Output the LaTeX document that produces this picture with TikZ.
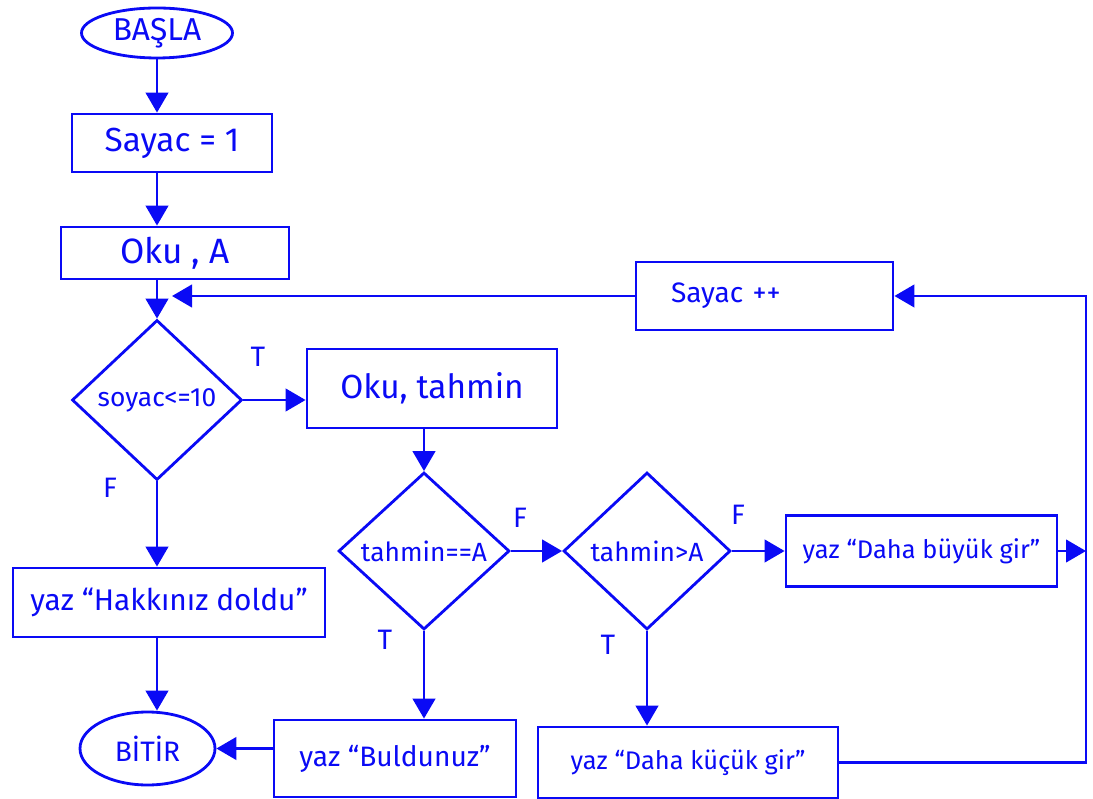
\documentclass[tikz,border=0pt]{standalone}
\usepackage{fontspec}
\setmainfont{Fira Sans}
\usetikzlibrary{shapes.geometric,arrows.meta}
\definecolor{ink}{RGB}{10,10,245}

\begin{document}
\begin{tikzpicture}[
  color=ink,
  box/.style={draw, line width=1.6pt, rectangle, inner sep=0pt},
  term/.style={draw, line width=1.6pt, ellipse, inner sep=0pt},
  cond/.style={draw, line width=1.6pt, diamond, inner sep=0pt, font=\fontsize{15}{17}\selectfont},
  arr/.style={line width=1.6pt, -{Triangle[length=4mm,width=4.5mm]}},
  tf/.style={font=\fontsize{16}{18}\selectfont}
]
  \useasboundingbox (0,0) rectangle (21.86,15.96);

  % Start and end
  \node[term, minimum width=3.02cm, minimum height=1cm, font=\fontsize{18}{20}\selectfont] (basla) at (3.14,15.3) {BAŞLA};
  \node[term, minimum width=2.7cm, minimum height=1.46cm, font=\fontsize{16}{18}\selectfont] (bitir) at (2.95,0.99) {BİTİR};

  % Boxes
  \node[box, minimum width=4cm, minimum height=1.16cm, font=\fontsize{19}{22}\selectfont] (sayac1) at (3.44,13.1) {Sayac = 1};
  \node[box, minimum width=4.56cm, minimum height=1.04cm, font=\fontsize{20}{23}\selectfont] (okuA) at (3.5,10.9) {Oku , A};
  \node[box, minimum width=5cm, minimum height=1.58cm, font=\fontsize{19}{22}\selectfont] (okuT) at (8.64,8.19) {Oku, tahmin};
  \node[box, minimum width=6.24cm, minimum height=1.38cm, font=\fontsize{17}{20}\selectfont] (hakki) at (3.38,3.91) {yaz “Hakkınız doldu”};
  \node[box, minimum width=5.42cm, minimum height=1.42cm, font=\fontsize{14.5}{17}\selectfont] (buyuk) at (18.43,4.94) {yaz “Daha büyük gir”};
  \node[box, minimum width=4.84cm, minimum height=1.54cm, font=\fontsize{16}{19}\selectfont] (buldu) at (7.9,0.79) {yaz “Buldunuz”};
  \node[box, minimum width=6cm, minimum height=1.42cm, font=\fontsize{14.5}{17}\selectfont] (kucuk) at (13.76,0.71) {yaz “Daha küçük gir”};
  \node[box, text width=5.14cm, align=left, minimum height=1.36cm, font=\fontsize{16}{19}\selectfont] (sayacpp) at (15.29,10.04) {\hspace*{0.7cm}Sayac ++};

  % Decisions
  \node[cond, minimum width=3.4cm, minimum height=3.2cm] (dec1) at (3.14,7.96) {soyac<=10};
  \node[cond, minimum width=3.42cm, minimum height=3.14cm] (dec2) at (8.48,4.94) {tahmin==A};
  \node[cond, minimum width=3.34cm, minimum height=3.14cm] (dec3) at (12.94,4.94) {tahmin>A};

  % T / F labels
  \node[tf] (t1) at (5.16,8.82) {T};
  \node[tf] (f1) at (2.2,6.2) {F};
  \node[tf] (f2) at (10.4,5.6) {F};
  \node[tf] (t2) at (7.7,3.16) {T};
  \node[tf] (f3) at (14.76,5.66) {F};
  \node[tf] (t3) at (12.16,3.06) {T};

  \coordinate (merge) at (21.72,4.94);
  \coordinate (back) at (3.44,10.04);

  % Arrows
  \draw[arr] (basla.south) -- (basla |- sayac1.north);
  \draw[arr] (sayac1.south -| basla) -- (basla |- okuA.north);
  \draw[arr] (okuA.south -| basla) -- (dec1.north);
  \draw[arr] (dec1.east) -- (dec1.east -| okuT.west);
  \draw[arr] (dec1.south) -- (dec1.south |- hakki.north);
  \draw[arr] (hakki.south -| basla) -- (basla |- bitir.north);
  \draw[arr] (okuT.south -| dec2) -- (dec2.north);
  \draw[arr] (dec2.east) -- (dec3.west);
  \draw[arr] (dec3.east) -- (buyuk.west);
  \draw[arr] (dec2.south) -- (dec2.south |- buldu.north);
  \draw[arr] (dec3.south) -- (dec3.south |- kucuk.north);
  \draw[arr] (buldu.west |- bitir) -- (bitir.east);
  \draw[arr] (buyuk.east) -- (merge);
  \draw[arr] (kucuk.east) -- (kucuk.east -| merge) |- (sayacpp.east);
  \draw[arr] (sayacpp.west) -- (back);

\end{tikzpicture}
\end{document}
